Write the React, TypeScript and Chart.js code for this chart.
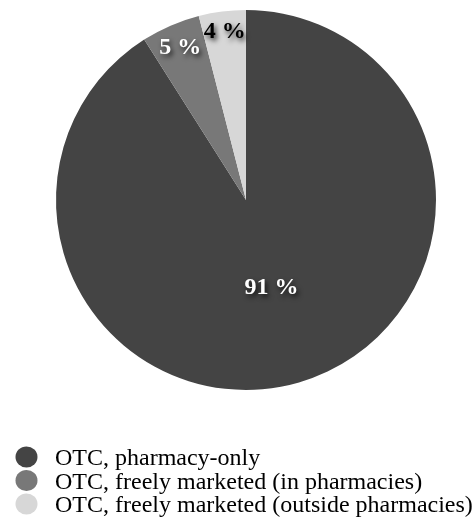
import React, { useEffect, useRef } from "react";
import { Chart, registerables } from "chart.js";

Chart.register(...registerables);

// Share of OTC medicines by distribution channel (%)
const categories = [
  "OTC, pharmacy-only",
  "OTC, freely marketed (in pharmacies)",
  "OTC, freely marketed (outside pharmacies)",
];
const shares = [91, 5, 4];
const sliceColors = ["#444444", "#787878", "#d7d7d7"];
const labelColors = ["#ffffff", "#ffffff", "#000000"];
// how far out along the slice radius each value label sits
const labelRadiusFraction = [0.48, 0.87, 0.89];

const W = 476;
const H = 519;

const valueLabels = {
  id: "valueLabels",
  afterDatasetsDraw(chart: any) {
    const ctx = chart.ctx;
    const meta = chart.getDatasetMeta(0);
    ctx.save();
    ctx.font = "bold 24px 'Liberation Serif', 'Times New Roman', serif";
    ctx.textAlign = "center";
    ctx.textBaseline = "middle";
    meta.data.forEach((arc: any, i: number) => {
      const p = arc.getProps(["x", "y", "startAngle", "endAngle", "outerRadius"], true);
      const mid = (p.startAngle + p.endAngle) / 2;
      const r = p.outerRadius * labelRadiusFraction[i];
      const x = p.x + Math.cos(mid) * r;
      const y = p.y + Math.sin(mid) * r;
      ctx.shadowColor = "rgba(0,0,0,0.75)";
      ctx.shadowBlur = 5;
      ctx.shadowOffsetX = 2;
      ctx.shadowOffsetY = 3;
      ctx.fillStyle = labelColors[i];
      ctx.fillText(`${shares[i]} %`, x, y);
    });
    ctx.restore();
  },
};

const circleLegend = {
  id: "circleLegend",
  afterDraw(chart: any) {
    const ctx = chart.ctx;
    ctx.save();
    ctx.font = "24px 'Liberation Serif', 'Times New Roman', serif";
    ctx.textBaseline = "alphabetic";
    ctx.textAlign = "left";
    categories.forEach((name, i) => {
      const cy = 457 + i * 23.5;
      ctx.fillStyle = sliceColors[i];
      ctx.beginPath();
      ctx.ellipse(26.5, cy, 11, 10.5, 0, 0, Math.PI * 2);
      ctx.fill();
      ctx.fillStyle = "#000000";
      ctx.fillText(name, 55, cy + 8);
    });
    ctx.restore();
  },
};

export default function App() {
  const canvasRef = useRef<HTMLCanvasElement | null>(null);

  useEffect(() => {
    if (!canvasRef.current) return;
    const chart = new Chart(canvasRef.current, {
      type: "pie",
      data: {
        labels: categories,
        datasets: [
          {
            data: shares,
            backgroundColor: sliceColors,
            borderWidth: 0,
          },
        ],
      },
      options: {
        responsive: false,
        animation: false,
        layout: { padding: { left: 56, right: 40, top: 10, bottom: 129 } },
        plugins: {
          legend: { display: false },
          tooltip: { enabled: false },
        },
      },
      plugins: [valueLabels, circleLegend],
    });
    return () => chart.destroy();
  }, []);

  return (
    <div style={{ position: "absolute", left: 0, top: 0, width: W, height: H, background: "#ffffff" }}>
      <canvas ref={canvasRef} width={W} height={H} style={{ display: "block" }} />
    </div>
  );
}
